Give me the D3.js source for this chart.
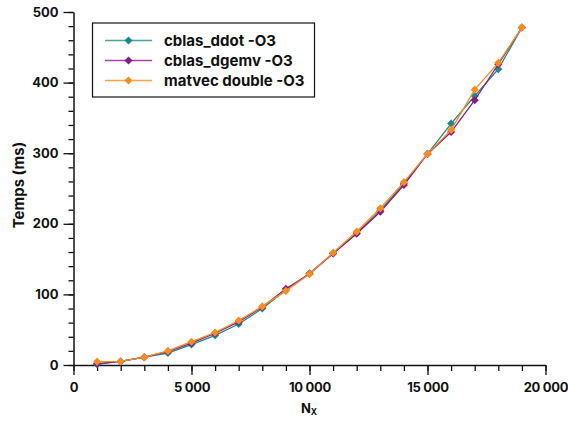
<!DOCTYPE html>
<html>
<head>
<meta charset="utf-8">
<script src="https://cdn.jsdelivr.net/npm/d3@7"></script>
<style>
  html, body { margin: 0; padding: 0; background: #fff; }
  svg text { font-family: Inter, "Liberation Sans", Arial, sans-serif; font-weight: 700; fill: #111; }
</style>
</head>
<body>
<svg id="chart" width="568" height="421"></svg>
<script>
const nx = [1000,2000,3000,4000,5000,6000,7000,8000,9000,10000,11000,12000,13000,14000,15000,16000,17000,18000,19000];
const ddot  = [1, 5, 11, 17, 29, 42, 58, 80, 106, 130, 158, 187, 219, 257, 299, 342, 381, 419, 478];
const dgemv = [2, 5, 11, 19, 31, 45, 61, 82, 108, 129, 158, 186, 217, 255, 299, 330, 375, 426, 478];
const matvec= [4.7, 5, 11, 20, 33, 46, 63, 83, 105, 129, 159, 189, 222, 259, 299, 333, 390, 428, 478];
const seriesNames = ["cblas_ddot -O3", "cblas_dgemv -O3", "matvec double -O3"];
const seriesColors = ["#1a8c8c", "#8a1a8a", "#ff8c1a"];
const xTicks = [0, 5000, 10000, 15000, 20000];
const xTickLabels = ["0", "5 000", "10 000", "15 000", "20 000"];
const yTicks = [0, 100, 200, 300, 400, 500];

const svg = d3.select("#chart");
const x = d3.scaleLinear().domain([0, 20000]).range([73.5, 545.5]);
const y = d3.scaleLinear().domain([0, 500]).range([365, 12]);

// minor ticks
const gx = svg.append("g").attr("transform", "translate(0,365)");
gx.call(d3.axisBottom(x).tickValues(d3.range(0, 20001, 1000)).tickSize(6).tickFormat(""));
gx.call(g => g.select(".domain").remove());
gx.selectAll("line").attr("stroke", "#111").attr("stroke-width", 1.3);
const gx2 = svg.append("g").attr("transform", "translate(0,365)");
gx2.call(d3.axisBottom(x).tickValues(xTicks).tickSize(10).tickSizeOuter(0).tickPadding(8)
  .tickFormat((d, i) => xTickLabels[i]));
gx2.select(".domain").attr("stroke", "#111").attr("stroke-width", 1.5);
gx2.selectAll("line").attr("stroke", "#111").attr("stroke-width", 1.3);
gx2.selectAll("text").attr("font-size", 13).attr("letter-spacing", "-0.3px").attr("fill", "#111");

const gy = svg.append("g").attr("transform", "translate(73.5,0)");
gy.call(d3.axisLeft(y).tickValues(d3.range(0, 501, 20)).tickSize(5).tickFormat(""));
gy.call(g => g.select(".domain").remove());
gy.selectAll("line").attr("stroke", "#111").attr("stroke-width", 1.3);
const gy2 = svg.append("g").attr("transform", "translate(73.5,0)");
gy2.call(d3.axisLeft(y).tickValues(yTicks).tickSize(10).tickSizeOuter(0).tickPadding(5).tickFormat(d3.format("d")));
gy2.select(".domain").attr("stroke", "#111").attr("stroke-width", 1.5);
gy2.selectAll("line").attr("stroke", "#111").attr("stroke-width", 1.3);
gy2.selectAll("text").attr("font-size", 13).attr("fill", "#111");

// axis labels
svg.append("text").attr("transform", "translate(24,185) rotate(-90)")
  .attr("text-anchor", "middle").attr("font-size", 15).text("Temps (ms)");
const xl = svg.append("text").attr("x", 309).attr("y", 413).attr("text-anchor", "middle").attr("font-size", 13);
xl.append("tspan").text("N");
xl.append("tspan").attr("font-size", 8.5).attr("dy", 2).text("X");

// series
const data = [ddot, dgemv, matvec];
const line = d3.line().x((d, i) => x(nx[i])).y(d => y(d));
const marker = d3.symbol().type(d3.symbolDiamond2).size(42);
data.forEach((vals, k) => {
  const g = svg.append("g");
  g.append("path").datum(vals).attr("d", line)
    .attr("fill", "none").attr("stroke", seriesColors[k]).attr("stroke-width", 1.3);
  g.selectAll("path.m").data(vals).join("path").attr("class", "m")
    .attr("transform", (d, i) => `translate(${x(nx[i])},${y(d)})`)
    .attr("d", marker)
    .attr("fill", seriesColors[k]);
});

// legend
const lg = svg.append("g");
lg.append("rect").attr("x", 92.5).attr("y", 23).attr("width", 222).attr("height", 74)
  .attr("fill", "#fff").attr("stroke", "#111").attr("stroke-width", 1.2);
const rowsY = [40.5, 60.5, 80.5];
seriesNames.forEach((n, k) => {
  lg.append("line").attr("x1", 105).attr("x2", 152).attr("y1", rowsY[k]).attr("y2", rowsY[k])
    .attr("stroke", seriesColors[k]).attr("stroke-width", 1.3).attr("stroke-opacity", 0.8);
  lg.append("path").attr("transform", `translate(128.5,${rowsY[k]})`)
    .attr("d", marker).attr("fill", seriesColors[k]);
  lg.append("text").attr("x", 164).attr("y", rowsY[k]).attr("dy", "0.36em")
    .attr("font-size", 15).text(n);
});
</script>
</body>
</html>
